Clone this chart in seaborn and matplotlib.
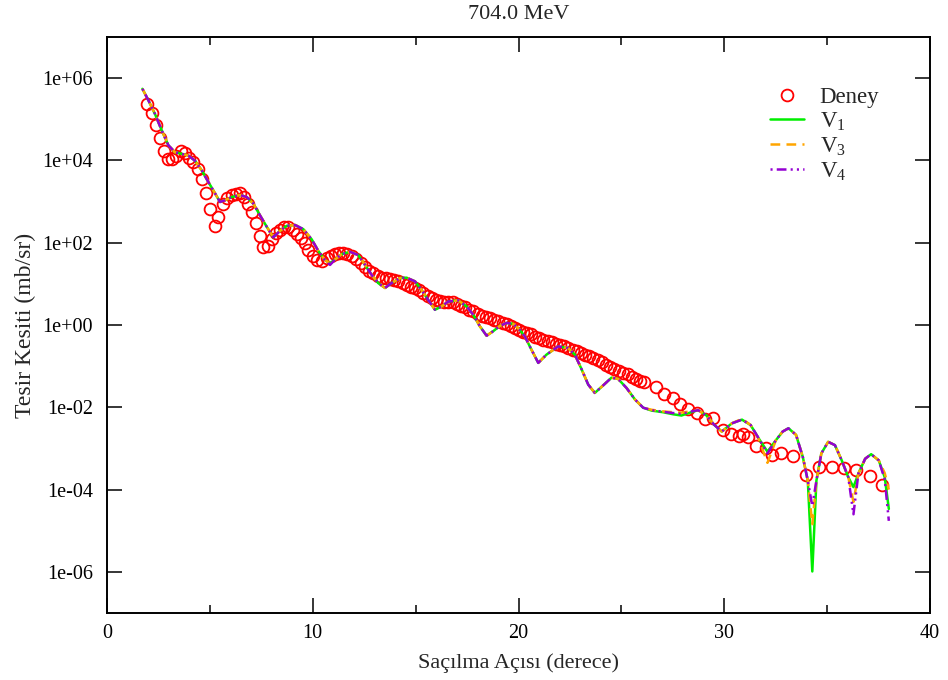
import numpy as np
import pandas as pd
import matplotlib
matplotlib.use("Agg")
import matplotlib.pyplot as plt
import seaborn as sns
from matplotlib.ticker import FixedLocator, MultipleLocator, FuncFormatter, NullLocator

# ---------------- data ----------------
title = "704.0 MeV"
xlabel = "Saçılma Açısı (derece)"
ylabel = "Tesir Kesiti (mb/sr)"

# experimental points: angle (deg), log10 of cross-section (mb/sr)
exp_angle = [1.96, 2.17, 2.37, 2.58, 2.78, 2.95, 3.14, 3.34, 3.58, 3.79, 4.00, 4.19, 4.41, 4.60,
             4.81, 5.00, 5.25, 5.41, 5.62, 5.83, 6.06, 6.27, 6.46, 6.66, 6.84, 7.03, 7.24, 7.43,
             7.59, 7.81, 8.00, 8.21, 8.41, 8.62, 8.81, 9.02, 9.22, 9.43, 9.62, 9.78, 10.00, 10.19,
             10.43, 10.68, 10.88, 11.08, 11.29, 11.45, 11.65, 11.89, 12.10, 12.33, 12.54, 12.75,
             12.94, 13.15, 13.35, 13.56, 13.75, 13.96, 14.15, 14.37, 14.56, 14.77, 14.97, 15.18,
             15.37, 15.58, 15.78, 15.99, 16.18, 16.39, 16.58, 16.80, 16.99, 17.20, 17.40, 17.60,
             17.80, 18.01, 18.21, 18.42, 18.61, 18.82, 19.01, 19.23, 19.42, 19.63, 19.83, 20.03,
             20.20, 20.39, 20.59, 20.80, 21.01, 21.20, 21.41, 21.61, 21.82, 22.01, 22.22, 22.41,
             22.63, 22.82, 23.03, 23.23, 23.44, 23.63, 23.84, 24.04, 24.25, 24.44, 24.65, 24.87,
             25.09, 25.30, 25.50, 25.70, 25.90, 26.11, 26.68, 27.08, 27.49, 27.84, 28.25, 28.66,
             29.06, 29.47, 29.93, 30.33, 30.70, 30.91, 31.15, 31.52, 32.02, 32.31, 32.75, 33.36,
             33.98, 34.59, 35.22, 35.83, 36.41, 37.07, 37.68]
exp_log_sigma = [5.38, 5.16, 4.87, 4.54, 4.22, 4.04, 4.04, 4.10, 4.22, 4.18, 4.07, 3.96, 3.78, 3.54,
                 3.21, 2.81, 2.41, 2.63, 2.93, 3.08, 3.16, 3.18, 3.20, 3.11, 2.95, 2.75, 2.48, 2.16,
                 1.89, 1.92, 2.08, 2.23, 2.32, 2.39, 2.39, 2.31, 2.20, 2.11, 1.99, 1.82, 1.68, 1.58,
                 1.56, 1.62, 1.68, 1.73, 1.76, 1.76, 1.73, 1.68, 1.60, 1.50, 1.40, 1.32,
                 1.26, 1.19, 1.15, 1.14, 1.11, 1.10, 1.07, 1.03, 0.98, 0.93, 0.89, 0.84,
                 0.77, 0.71, 0.65, 0.61, 0.59, 0.57, 0.57, 0.55, 0.52, 0.47, 0.43, 0.37,
                 0.33, 0.27, 0.23, 0.19, 0.16, 0.13, 0.10, 0.06, 0.03, -0.02, -0.07, -0.11,
                 -0.16, -0.19, -0.23, -0.28, -0.31, -0.36, -0.40, -0.42, -0.45, -0.48, -0.52, -0.56,
                 -0.60, -0.64, -0.68, -0.72, -0.76, -0.80, -0.84, -0.91, -0.96, -1.02, -1.08, -1.12,
                 -1.16, -1.20, -1.26, -1.31, -1.35, -1.39, -1.50, -1.67, -1.78, -1.91, -2.03, -2.15,
                 -2.28, -2.27, -2.54, -2.66, -2.70, -2.65, -2.72, -2.94, -2.99, -3.16, -3.12, -3.19,
                 -3.64, -3.45, -3.44, -3.47, -3.53, -3.67, -3.88]

# theoretical curves: angle (deg), log10 cross-section
th_angle = [1.72, 2.01, 2.33, 2.66, 2.98, 3.30, 3.63, 3.95, 4.28, 4.60, 4.92, 5.25, 5.49, 5.73,
            6.06, 6.46, 6.79, 7.11, 7.43, 7.76, 8.08, 8.41, 8.73, 9.14, 9.54, 9.95, 10.27, 10.59,
            10.84, 11.10, 11.40, 11.81, 12.21, 12.54, 12.86, 13.18, 13.51, 13.83, 14.24, 14.56,
            14.97, 15.29, 15.61, 15.94, 16.26, 16.58, 17.07, 17.48, 17.80, 18.12, 18.45, 18.77,
            19.10, 19.42, 19.74, 20.07, 20.31, 20.63, 20.96, 21.36, 21.93, 22.41, 22.74, 23.07,
            23.39, 23.71, 24.11, 24.52, 24.84, 25.25, 25.66, 26.06, 26.47, 27.03, 27.52, 27.92,
            28.33, 28.73, 29.14, 29.50, 29.88, 30.37, 30.86, 31.28, 31.68, 32.10, 32.51, 32.84,
            33.12, 33.49, 33.82, 34.06, 34.28, 34.48, 34.72, 35.05, 35.38, 35.71, 36.03, 36.28,
            36.52, 36.85, 37.14, 37.51, 37.80, 38.00]
v1_log_sigma = [5.74, 5.46, 5.13, 4.73, 4.37, 4.20, 4.16, 4.12, 3.99, 3.76, 3.48, 3.20, 2.99, 3.03,
                3.11, 3.16, 3.11, 2.95, 2.67, 2.39, 2.13, 2.29, 2.41, 2.43, 2.33, 2.08, 1.80, 1.58,
                1.50, 1.60, 1.72, 1.78, 1.70, 1.46, 1.22, 1.02, 0.90, 1.02, 1.14, 1.15,
                1.06, 0.85, 0.61, 0.37, 0.45, 0.57, 0.60, 0.45, 0.25, -0.03, -0.26, -0.15,
                -0.02, 0.05, 0.03, -0.12, -0.28, -0.60, -0.92, -0.72, -0.52, -0.56, -0.72, -1.08,
                -1.45, -1.65, -1.47, -1.28, -1.31, -1.53, -1.81, -2.01, -2.08, -2.12, -2.17, -2.20,
                -2.13, -2.07, -2.20, -2.42, -2.59, -2.39, -2.30, -2.43, -2.76, -3.08, -2.80, -2.59,
                -2.51, -2.67, -3.21, -3.78, -5.99, -3.78, -3.12, -2.84, -2.92, -3.29, -3.70, -3.94,
                -3.61, -3.25, -3.14, -3.29, -3.70, -4.47]
v3_log_sigma = [5.74, 5.46, 5.13, 4.73, 4.37, 4.20, 4.16, 4.12, 3.99, 3.76, 3.48, 3.20, 2.99, 3.03,
                3.11, 3.16, 3.11, 2.95, 2.67, 2.39, 2.13, 2.29, 2.41, 2.43, 2.33, 2.08, 1.80, 1.58,
                1.50, 1.60, 1.72, 1.78, 1.70, 1.46, 1.22, 1.02, 0.90, 1.02, 1.14, 1.15,
                1.06, 0.85, 0.61, 0.37, 0.45, 0.57, 0.60, 0.45, 0.25, -0.03, -0.26, -0.15,
                -0.02, 0.05, 0.03, -0.12, -0.28, -0.60, -0.92, -0.72, -0.52, -0.56, -0.72, -1.08,
                -1.45, -1.65, -1.47, -1.28, -1.31, -1.53, -1.81, -2.01, -2.06, -2.10, -2.12, -2.13,
                -2.10, -2.07, -2.20, -2.42, -2.59, -2.39, -2.28, -2.43, -2.78, -3.35, -2.80, -2.59,
                -2.51, -2.67, -3.21, -3.78, -4.84, -3.78, -3.12, -2.84, -2.92, -3.29, -3.70, -4.30,
                -3.61, -3.25, -3.14, -3.29, -3.60, -4.00]
v4_log_sigma = [5.74, 5.46, 5.13, 4.73, 4.37, 4.20, 4.16, 4.12, 3.99, 3.76, 3.48, 3.20, 2.99, 3.03,
                3.11, 3.16, 3.11, 2.95, 2.67, 2.39, 2.13, 2.29, 2.41, 2.43, 2.33, 2.08, 1.80, 1.58,
                1.46, 1.60, 1.72, 1.78, 1.70, 1.46, 1.22, 1.02, 0.90, 1.02, 1.14, 1.15,
                1.06, 0.85, 0.61, 0.37, 0.45, 0.57, 0.60, 0.45, 0.25, -0.03, -0.26, -0.15,
                -0.02, 0.05, 0.03, -0.12, -0.28, -0.60, -0.92, -0.72, -0.52, -0.56, -0.72, -1.08,
                -1.45, -1.65, -1.47, -1.28, -1.31, -1.53, -1.81, -2.01, -2.07, -2.11, -2.14, -2.16,
                -2.11, -2.07, -2.20, -2.42, -2.59, -2.39, -2.30, -2.43, -2.76, -3.12, -2.80, -2.59,
                -2.51, -2.67, -3.21, -3.78, -4.40, -3.78, -3.12, -2.84, -2.92, -3.29, -3.70, -4.60,
                -3.61, -3.25, -3.14, -3.29, -3.75, -4.76]

series_labels = ["V$_1$", "V$_3$", "V$_4$"]
exp_label = "Deney"

# ---------------- styling ----------------
sns.set_theme(style="white")
plt.rcParams["font.family"] = ["Liberation Serif", "DejaVu Serif"]
plt.rcParams["mathtext.fontset"] = "custom"
plt.rcParams["mathtext.rm"] = "Liberation Serif"
plt.rcParams["mathtext.it"] = "Liberation Serif:italic"
plt.rcParams["lines.scale_dashes"] = False

fig = plt.figure(figsize=(9.48, 6.80), dpi=100)
ax = fig.add_axes([0.1129, 0.0985, 0.8681, 0.8471])

exp_df = pd.DataFrame({"angle": exp_angle, "sigma": np.power(10.0, exp_log_sigma)})
th_df = pd.DataFrame({
    "angle": th_angle,
    "V1": np.power(10.0, v1_log_sigma),
    "V3": np.power(10.0, v3_log_sigma),
    "V4": np.power(10.0, v4_log_sigma),
})

sns.lineplot(data=exp_df, x="angle", y="sigma", ax=ax, estimator=None, sort=False,
             linestyle="", marker="o", markersize=8.5, markerfacecolor="none",
             markeredgecolor="#ff0000", markeredgewidth=1.3, label=exp_label)

styles = {
    "V1": dict(color="#00ee00", linestyle="-", linewidth=1.8),
    "V3": dict(color="#ffa500", linestyle=(0, (7, 4.5)), linewidth=1.8),
    "V4": dict(color="#9400d3", linestyle=(0, (1.5, 3, 7, 3, 1.5, 3)), linewidth=1.8),
}
for key, lab in zip(["V1", "V3", "V4"], series_labels):
    sns.lineplot(data=th_df, x="angle", y=key, ax=ax, estimator=None, sort=False,
                 label=lab, **styles[key])

ax.set_yscale("log")
ax.set_xlim(0, 40)
ax.set_ylim(1e-7, 1e7)
ax.xaxis.set_major_locator(MultipleLocator(10))
ax.xaxis.set_minor_locator(MultipleLocator(5))
ax.xaxis.set_major_formatter(FuncFormatter(lambda v, p: f"{v:.0f}"))
ax.yaxis.set_major_locator(FixedLocator([1e-6, 1e-4, 1e-2, 1e0, 1e2, 1e4, 1e6]))
ax.yaxis.set_minor_locator(NullLocator())
ax.yaxis.set_major_formatter(FuncFormatter(lambda v, p: f"{v:.0e}"))

ax.tick_params(which="both", direction="in", top=True, right=True, bottom=True, left=True,
               colors="black", labelsize=14.5)
ax.tick_params(which="major", length=10.5, width=1.1)
ax.tick_params(which="minor", length=5.5, width=1.1)
ax.tick_params(axis="y", pad=10)
ax.tick_params(axis="x", pad=8)
for sp in ax.spines.values():
    sp.set_visible(True)
    sp.set_color("black")
    sp.set_linewidth(1.4)

ax.set_xlabel(xlabel, fontsize=16, labelpad=7)
ax.set_ylabel(ylabel, fontsize=17, labelpad=5)
ax.set_title(title, fontsize=16, pad=13)

leg = ax.legend(loc="upper left", bbox_to_anchor=(0.806, 0.914), frameon=False,
                fontsize=16.5, handlelength=1.45, handletextpad=0.7, labelspacing=0.12,
                borderpad=0, borderaxespad=0)

fig.savefig("out.png", dpi=100, facecolor="white")
